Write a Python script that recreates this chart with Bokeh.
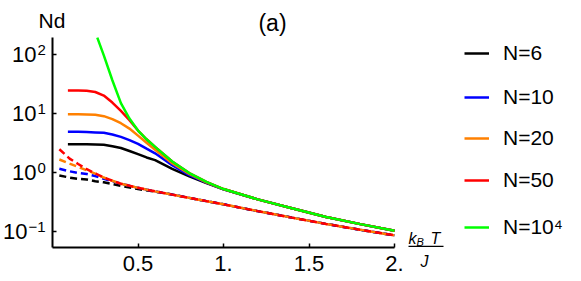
from bokeh.plotting import figure
from bokeh.models import (Label, Legend, LegendItem, FixedTicker, PolyAnnotation,
                          Range1d, CustomJSTickFormatter)
from bokeh.embed import file_html
from bokeh.resources import INLINE

# ---------------- data ----------------
x_solid = [0.09, 0.15, 0.2, 0.25, 0.3, 0.35, 0.4, 0.45, 0.5, 0.55, 0.6,
           0.7, 0.8, 0.9, 1.0, 1.2, 1.4, 1.6, 1.8, 2.0]
nd_6 = [3.05, 3.05, 3.04, 3.02, 2.98, 2.82, 2.63, 2.34, 2.07, 1.82, 1.64,
        1.17, 0.87, 0.67, 0.525, 0.355, 0.251, 0.178, 0.135, 0.104]
nd_10 = [4.95, 4.95, 4.90, 4.84, 4.76, 4.47, 4.07, 3.59, 3.09, 2.57, 2.14,
         1.35, 0.91, 0.684, 0.525, 0.355, 0.251, 0.178, 0.135, 0.104]
nd_20 = [9.84, 9.84, 9.77, 9.66, 9.12, 8.13, 6.92, 5.62, 4.27, 3.24, 2.45,
         1.45, 0.955, 0.69, 0.53, 0.355, 0.251, 0.178, 0.135, 0.104]
nd_50 = [24.8, 24.8, 24.5, 23.4, 20.4, 15.5, 11.2, 7.8, 5.2, 3.7, 2.75,
         1.55, 0.99, 0.70, 0.53, 0.355, 0.251, 0.178, 0.135, 0.104]

x_inf = [0.262, 0.3, 0.35, 0.4, 0.45, 0.5, 0.55, 0.6, 0.7, 0.8, 0.9, 1.0,
         1.2, 1.4, 1.6, 1.8, 2.0]
nd_inf = [196, 98, 37, 15.2, 8.3, 5.2, 3.7, 2.75, 1.55, 0.99, 0.70, 0.53,
          0.355, 0.251, 0.178, 0.135, 0.104]

x_dash = [0.04, 0.1, 0.15, 0.2, 0.25, 0.3, 0.35, 0.4, 0.5, 0.6, 0.7, 0.8,
          0.9, 1.0, 1.2, 1.4, 1.6, 1.8, 2.0]
nd_d50 = [2.51, 1.74, 1.41, 1.15, 0.977, 0.832, 0.733, 0.653, 0.556, 0.484,
          0.427, 0.376, 0.331, 0.292, 0.224, 0.174, 0.136, 0.108, 0.087]
nd_d20 = [1.68, 1.43, 1.26, 1.10, 0.97, 0.832, 0.733, 0.653, 0.556, 0.484,
          0.427, 0.376, 0.331, 0.292, 0.224, 0.174, 0.136, 0.108, 0.087]
nd_d10 = [1.17, 1.06, 0.99, 0.955, 0.88, 0.79, 0.72, 0.653, 0.556, 0.484,
          0.427, 0.376, 0.331, 0.292, 0.224, 0.174, 0.136, 0.108, 0.087]
nd_d6 = [0.90, 0.83, 0.79, 0.77, 0.72, 0.69, 0.645, 0.60, 0.53, 0.48,
         0.427, 0.376, 0.331, 0.292, 0.224, 0.174, 0.136, 0.108, 0.087]

series_labels = ["N=6", "N=10", "N=20", "N=50", "N=10⁴"]
series_colors = ["#000000", "#0000ff", "#ff8000", "#ff0000", "#00ff00"]

x_ticks = [0.5, 1.0, 1.5, 2.0]
x_tick_labels = ["0.5", "1.", "1.5", "2."]
y_ticks = [0.1, 1, 10, 100]
y_tick_base = ["10", "10", "10", "10"]
y_tick_exp = ["−1", "0", "1", "2"]

# plot-area extent (data)
X_MIN, X_MAX = 0.0, 2.0
Y_MIN, Y_MAX = 0.0542, 196.0

FONT = "Liberation Sans"
W, H = 581, 281
# pixel layout of the plot area inside the canvas
PX_X0, PX_X2 = 52.0, 394.0          # x = 0 and x = 2
PX_Y100, PX_DEC = 54.3, 59.0        # y = 100 position, px per decade
ppu = (PX_X2 - PX_X0) / (X_MAX - X_MIN)
xr = Range1d(X_MIN - PX_X0 / ppu, X_MIN + (W - PX_X0) / ppu)
yr = Range1d(10 ** (2 - (H - PX_Y100) / PX_DEC), 10 ** (2 + PX_Y100 / PX_DEC))

p = figure(width=W, height=H, x_range=xr, y_range=yr, y_axis_type="log",
           output_backend="svg", toolbar_location=None,
           min_border_left=0, min_border_right=0,
           min_border_top=0, min_border_bottom=0)
p.outline_line_color = None
p.xgrid.grid_line_color = None
p.ygrid.grid_line_color = None

p.xaxis.formatter = CustomJSTickFormatter(
    args=dict(t=x_ticks, l=x_tick_labels),
    code="const i = t.indexOf(tick); return i >= 0 ? l[i] : '';")
p.yaxis.formatter = CustomJSTickFormatter(code="return '';")
p.xaxis.ticker = FixedTicker(ticks=x_ticks)
p.yaxis.ticker = FixedTicker(ticks=y_ticks)
p.xaxis.fixed_location = Y_MIN
p.yaxis.fixed_location = X_MIN
p.xaxis.bounds = (X_MIN, X_MAX)
p.yaxis.bounds = (Y_MIN, Y_MAX)
for ax in (p.xaxis, p.yaxis):
    ax.axis_line_width = 2
    ax.axis_line_color = "black"
    ax.major_tick_in = 4
    ax.major_tick_out = 0
    ax.major_tick_line_width = 1.5
    ax.minor_tick_line_color = None
p.xaxis.major_label_standoff = 9
p.xaxis.major_label_text_font = FONT
p.xaxis.major_label_text_font_size = "22px"
p.xaxis.major_label_text_color = "black"

# dashed curves
for xs, ys, c in ((x_dash, nd_d6, series_colors[0]), (x_dash, nd_d10, series_colors[1]),
                  (x_dash, nd_d20, series_colors[2]), (x_dash, nd_d50, series_colors[3])):
    p.line(xs, ys, line_color=c, line_width=2.5, line_dash="7 4")

# solid curves
renderers = []
for xs, ys, c in ((x_solid, nd_6, series_colors[0]), (x_solid, nd_10, series_colors[1]),
                  (x_solid, nd_20, series_colors[2]), (x_solid, nd_50, series_colors[3]),
                  (x_inf, nd_inf, series_colors[4])):
    renderers.append(p.line(xs, ys, line_color=c, line_width=2.5))

# legend: one single-item legend per row (positions in screen px from bottom-left)
leg_rows = [53.3, 96.7, 137.7, 180.3, 227.3]
for r, lab, cy in zip(renderers, series_labels, leg_rows):
    leg = Legend(items=[LegendItem(label=lab, renderers=[r])],
                 location=(464, H - (cy + 13)),
                 glyph_width=25, glyph_height=26, label_height=26,
                 label_standoff=14, padding=0, margin=0, spacing=0,
                 border_line_color=None, background_fill_alpha=0,
                 label_text_font_size="21px", label_text_font=FONT,
                 label_text_color="black")
    p.add_layout(leg)

# y tick labels (base + superscript)
for v, b, e in zip(y_ticks, y_tick_base, y_tick_exp):
    xb = 27 if e.startswith("−") else 36
    p.add_layout(Label(x=xb, y=v, x_units="screen", y_units="data", text=b,
                       text_align="right", text_baseline="middle",
                       text_font=FONT, text_font_size="22px", text_color="black"))
    p.add_layout(Label(x=xb + 1, y=v, x_units="screen", y_units="data", text=e,
                       text_align="left", text_baseline="middle", y_offset=5,
                       text_font=FONT, text_font_size="15px", text_color="black"))

# axis titles and panel label (positioned by visual centre)
def txt(x, y_px, t, size, italic=False, align="center"):
    p.add_layout(Label(x=x, y=H - y_px, x_units="screen", y_units="screen", text=t,
                       text_align=align, text_baseline="middle",
                       text_font=FONT, text_font_size=size,
                       text_font_style="italic" if italic else "normal",
                       text_color="black"))

txt(51.5, 19.5, "Nd", "21px")
txt(272, 22, "(a)", "23px")
txt(408, 237.5, "k", "16px", True, "left")
txt(416, 241.5, "B", "11px", True, "left")
txt(430, 237.5, "T", "16px", True, "left")
txt(424, 261, "J", "16px", True)
p.add_layout(PolyAnnotation(xs=[408, 443, 443, 408],
                            ys=[H - 246.6, H - 246.6, H - 245.2, H - 245.2],
                            xs_units="screen", ys_units="screen",
                            fill_color="black", fill_alpha=1, line_color=None))

open("out.html", "w").write(file_html(p, INLINE))
